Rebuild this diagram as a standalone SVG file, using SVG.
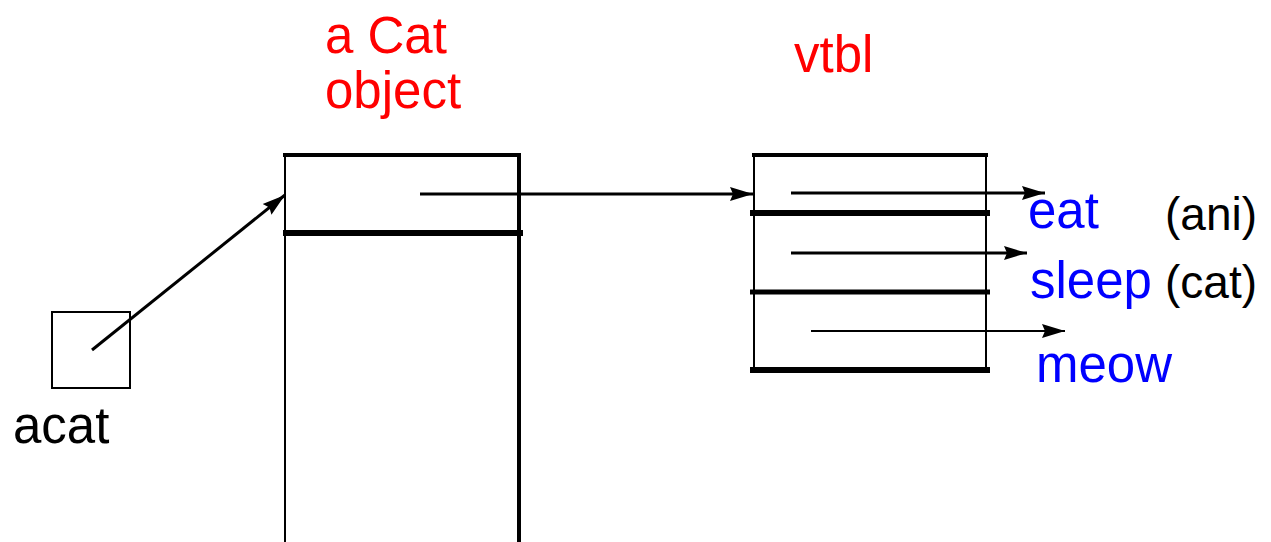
<svg xmlns="http://www.w3.org/2000/svg" width="1271" height="542" viewBox="0 0 1271 542">
<style>
.lbl{font-family:"Liberation Sans",Arial,sans-serif;font-size:51px}
.sm{font-size:46px}
.red{fill:#ff0000}
.blue{fill:#0000ff}
.blk{fill:#000}
.edge{fill:none;stroke:#000;stroke-width:3}
.edge2{fill:none;stroke:#000;stroke-width:2}
.thin{stroke:#000;stroke-width:2;fill:none}
.thick{stroke:#000;stroke-width:6}
</style>
<defs>
<marker id="ah" markerUnits="userSpaceOnUse" markerWidth="26" markerHeight="18" refX="23" refY="8" orient="auto">
<path d="M0,1 L23,8 L0,15 L3,8 Z" fill="#000"/>
</marker>
</defs>
<rect width="1271" height="542" fill="#fff"/>
<g id="acat">
<rect x="52" y="312" width="78" height="76" class="thin" stroke-width="1.5"/>
<text x="13" y="443" class="lbl blk">acat</text>
</g>
<g id="catobject">
<text x="325" y="53" class="lbl red">a Cat</text>
<text x="325" y="108" class="lbl red">object</text>
<line x1="285" y1="155" x2="285" y2="542" class="thin"/>
<line x1="519" y1="155" x2="519" y2="542" stroke="#000" stroke-width="4"/>
<line x1="283" y1="155" x2="521" y2="155" stroke="#000" stroke-width="4"/>
<line x1="283" y1="233" x2="523" y2="233" class="thick"/>
</g>
<g id="vtbl">
<text x="794" y="72" class="lbl red">vtbl</text>
<line x1="754" y1="155" x2="754" y2="370" class="thin"/>
<line x1="986" y1="155" x2="986" y2="370" class="thin"/>
<line x1="752" y1="155" x2="988" y2="155" stroke="#000" stroke-width="4"/>
<line x1="750" y1="213" x2="990" y2="213" class="thick"/>
<line x1="750" y1="292" x2="990" y2="292" stroke="#000" stroke-width="5"/>
<line x1="750" y1="370" x2="990" y2="370" class="thick"/>
</g>
<g id="methods">
<text x="1028" y="228" class="lbl blue">eat</text>
<text x="1030" y="298" class="lbl blue">sleep</text>
<text x="1036" y="382" class="lbl blue">meow</text>
<text x="1165" y="230" class="lbl sm blk">(ani)</text>
<text x="1165" y="298" class="lbl sm blk">(cat)</text>
</g>
<g id="connectors">
<line x1="92" y1="350" x2="285" y2="195" class="edge" marker-end="url(#ah)"/>
<line x1="420" y1="194" x2="753" y2="194" class="edge" marker-end="url(#ah)"/>
<line x1="791" y1="193" x2="1045" y2="193" class="edge" marker-end="url(#ah)"/>
<line x1="791" y1="253" x2="1027" y2="253" class="edge" marker-end="url(#ah)"/>
<line x1="811" y1="331" x2="1065" y2="331" class="edge2" marker-end="url(#ah)"/>
</g>
</svg>
